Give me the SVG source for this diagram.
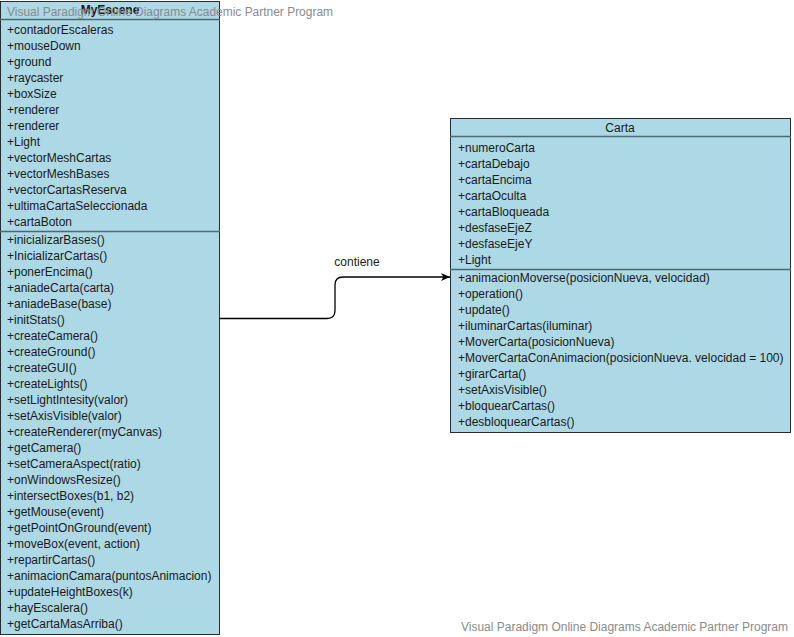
<svg xmlns="http://www.w3.org/2000/svg" width="794" height="637" viewBox="0 0 794 637">
<defs>
<style>
.box{fill:#ADD8E6;stroke:#2b2b2b;stroke-width:1}
.sep{stroke:#4a6a70;stroke-width:1.5;fill:none}
.t{font-family:"Liberation Sans",Arial,sans-serif;font-size:12px;fill:#1a1a1a}
.title{font-family:"Liberation Sans",Arial,sans-serif;font-size:12px;fill:#1a1a1a;text-anchor:middle}
.wm{font-family:"Liberation Sans",Arial,sans-serif;font-size:12.5px;fill:#8a8a8a}
.edge{fill:none;stroke:#000;stroke-width:1.3}
</style>
<marker id="arr" markerWidth="10" markerHeight="10" refX="9" refY="5" orient="auto" markerUnits="userSpaceOnUse">
<path d="M0,1 L9,5 L0,9 L2.5,5 Z" fill="#000"/>
</marker>
</defs>
<rect width="794" height="637" fill="#fff"/>

<g id="MyEscene">
<rect class="box" x="0.5" y="1.5" width="219" height="633"/>
<line class="sep" x1="0" y1="19.5" x2="220" y2="19.5"/>
<line class="sep" x1="0" y1="231.5" x2="220" y2="231.5"/>
<text class="title" x="110" y="14" font-weight="bold">MyEscene</text>
<g transform="translate(0,1)">
<text class="t" x="7" y="33">+contadorEscaleras</text>
<text class="t" x="7" y="49">+mouseDown</text>
<text class="t" x="7" y="65">+ground</text>
<text class="t" x="7" y="81">+raycaster</text>
<text class="t" x="7" y="97">+boxSize</text>
<text class="t" x="7" y="113">+renderer</text>
<text class="t" x="7" y="129">+renderer</text>
<text class="t" x="7" y="145">+Light</text>
<text class="t" x="7" y="161">+vectorMeshCartas</text>
<text class="t" x="7" y="177">+vectorMeshBases</text>
<text class="t" x="7" y="193">+vectorCartasReserva</text>
<text class="t" x="7" y="209">+ultimaCartaSeleccionada</text>
<text class="t" x="7" y="225">+cartaBoton</text>
<text class="t" x="7" y="243">+inicializarBases()</text>
<text class="t" x="7" y="259">+InicializarCartas()</text>
<text class="t" x="7" y="275">+ponerEncima()</text>
<text class="t" x="7" y="291">+aniadeCarta(carta)</text>
<text class="t" x="7" y="307">+aniadeBase(base)</text>
<text class="t" x="7" y="323">+initStats()</text>
<text class="t" x="7" y="339">+createCamera()</text>
<text class="t" x="7" y="355">+createGround()</text>
<text class="t" x="7" y="371">+createGUI()</text>
<text class="t" x="7" y="387">+createLights()</text>
<text class="t" x="7" y="403">+setLightIntesity(valor)</text>
<text class="t" x="7" y="419">+setAxisVisible(valor)</text>
<text class="t" x="7" y="435">+createRenderer(myCanvas)</text>
<text class="t" x="7" y="451">+getCamera()</text>
<text class="t" x="7" y="467">+setCameraAspect(ratio)</text>
<text class="t" x="7" y="483">+onWindowsResize()</text>
<text class="t" x="7" y="499">+intersectBoxes(b1, b2)</text>
<text class="t" x="7" y="515">+getMouse(event)</text>
<text class="t" x="7" y="531">+getPointOnGround(event)</text>
<text class="t" x="7" y="547">+moveBox(event, action)</text>
<text class="t" x="7" y="563">+repartirCartas()</text>
<text class="t" x="7" y="579">+animacionCamara(puntosAnimacion)</text>
<text class="t" x="7" y="595">+updateHeightBoxes(k)</text>
<text class="t" x="7" y="611">+hayEscalera()</text>
<text class="t" x="7" y="627">+getCartaMasArriba()</text>
</g>
</g>

<g id="Carta">
<rect class="box" x="450.5" y="118.5" width="340" height="314"/>
<line class="sep" x1="450" y1="136.5" x2="791" y2="136.5"/>
<line class="sep" x1="450" y1="269.5" x2="791" y2="269.5"/>
<text class="title" x="620" y="132">Carta</text>
<g transform="translate(0,1)">
<text class="t" x="458" y="151">+numeroCarta</text>
<text class="t" x="458" y="167">+cartaDebajo</text>
<text class="t" x="458" y="183">+cartaEncima</text>
<text class="t" x="458" y="199">+cartaOculta</text>
<text class="t" x="458" y="215">+cartaBloqueada</text>
<text class="t" x="458" y="231">+desfaseEjeZ</text>
<text class="t" x="458" y="247">+desfaseEjeY</text>
<text class="t" x="458" y="263">+Light</text>
<text class="t" x="458" y="281">+animacionMoverse(posicionNueva, velocidad)</text>
<text class="t" x="458" y="297">+operation()</text>
<text class="t" x="458" y="313">+update()</text>
<text class="t" x="458" y="329">+iluminarCartas(iluminar)</text>
<text class="t" x="458" y="345">+MoverCarta(posicionNueva)</text>
<text class="t" x="458" y="361">+MoverCartaConAnimacion(posicionNueva. velocidad = 100)</text>
<text class="t" x="458" y="377">+girarCarta()</text>
<text class="t" x="458" y="393">+setAxisVisible()</text>
<text class="t" x="458" y="409">+bloquearCartas()</text>
<text class="t" x="458" y="425">+desbloquearCartas()</text>
</g>
</g>

<g id="connectors">
<path class="edge" d="M219,318.5 H327 Q335,318.5 335,310.5 V285 Q335,277 343,277 H450" marker-end="url(#arr)"/>
<text class="t" x="357" y="266" text-anchor="middle">contiene</text>
</g>

<g id="watermarks">
<text class="wm" x="7" y="16" textLength="326" lengthAdjust="spacingAndGlyphs">Visual Paradigm Online Diagrams Academic Partner Program</text>
<text class="wm" x="461" y="631" textLength="327" lengthAdjust="spacingAndGlyphs">Visual Paradigm Online Diagrams Academic Partner Program</text>
</g>
</svg>
